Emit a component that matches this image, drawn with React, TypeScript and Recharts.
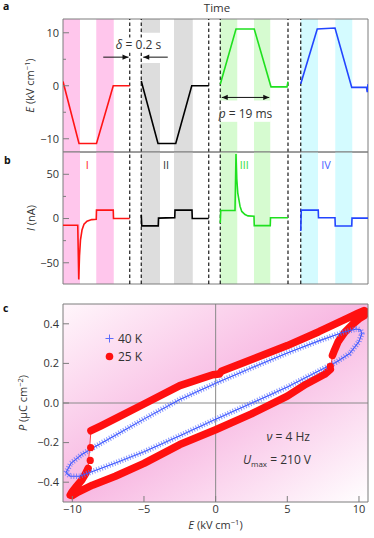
import React from 'react'
import {
  LineChart,
  Line,
  XAxis,
  YAxis,
  Label,
  ReferenceArea,
  ReferenceLine,
  ReferenceDot,
  ScatterChart,
  Scatter,
  Legend,
} from 'recharts'

const FONT = '"Open Sans", "DejaVu Sans", sans-serif'
const INK = '#333333'
const FRAME = '#7d7d7d'
const W = 374

// ---- panels a/b: pulse sequences on a broken time axis (ms) ----
const timeDomain: [number, number] = [0, 122]
const breakLines = [26.7, 31.3, 58.3, 62.9, 90, 95.1]
const pulseNames = ['I', 'II', 'III', 'IV']
const pulseColors = ['#ff1414', '#000000', '#1fe01f', '#2345ff']
const numeralColors = ['#ff2020', '#333333', '#33dd33', '#4a63ff']
const shadeColors = ['#ffc6ec', '#dddddd', '#d6fbd0', '#d4fbff']
const numeralAt = [9.7, 41.2, 72.5, 105.2]
const shadeBands = [
  [[0, 6.8], [13.3, 20.3]],
  [[31.3, 38.8], [44.4, 51.9]],
  [[62.9, 69.7], [76.4, 82.9]],
  [[95.1, 102], [108.9, 115.7]],
]

// E (kV cm^-1) vs t
const fieldTraces = [
  [[0, 0.8], [6.4, -10.9], [13.4, -10.9], [20.1, 0], [26.7, 0]],
  [[31.3, 0.9], [38, -10.9], [45.1, -10.9], [51.5, 0], [58.3, 0]],
  [[62.9, 0.3], [69.2, 10.7], [76.5, 10.7], [83.2, -0.2], [89.6, -0.2], [90, 0.8]],
  [[95.1, 0.4], [101.7, 10.7], [108.8, 10.9], [115.5, -0.3], [121.4, -0.3], [121.7, -1.2], [122, 0.3]],
]
const fieldDomain: [number, number] = [-12.5, 12.6]
const fieldTicks = [-10, -5, 0, 5, 10]

// I (nA) vs t
const currentTraces = [
  [[0, -7.6], [5.9, -7.6], [6.3, -69], [6.6, -42], [7.0, -24], [7.6, -13], [8.4, -6.5], [9.6, -3], [11.5, -1.2], [13.3, -0.8], [13.4, 9.5], [20.1, 9.5], [20.2, 0], [26.7, 0]],
  [[31.3, 4], [31.5, -8.3], [38.1, -8.3], [38.2, 0.5], [44.7, 1], [44.8, 9.5], [51.6, 9.5], [51.7, 0], [58.3, 0]],
  [[62.9, -5], [63.1, 9], [68.8, 9], [69.2, 73], [69.5, 45], [69.9, 29], [70.8, 14], [71.5, 8], [72.8, 4.5], [74, 3], [76.4, 2.5], [76.5, -8], [82.9, -8], [83, 0.8], [90, 0.8]],
  [[95.1, -14], [95.3, 9.5], [102.1, 9.5], [102.2, 0.8], [108.8, 0.8], [108.9, -8.5], [115.5, -8.5], [115.6, 0.5], [122, 0.5]],
]
const currentDomain: [number, number] = [-74, 75.2]
const currentTicks = [-50, -25, 0, 25, 50]

// ---- panel c: P-E loops ----
const eDomain: [number, number] = [-10.65, 10.63]
const pDomain: [number, number] = [-0.5, 0.5]
const eTicks = [-10, -5, 0, 5, 10]
const pTicks = [-0.4, -0.2, 0, 0.2, 0.4]

const red25Upper = [
  [-8.7, -0.14], [-8.0, -0.115], [-6.9, -0.075], [-5.0, -0.005], [-2.5, 0.088], [-0.2, 0.143],
  [0.25, 0.146], [0.4, 0.16], [2.6, 0.222], [5.0, 0.29], [7.2, 0.36], [9.1, 0.425], [9.9, 0.452],
  [10.35, 0.467], [10.55, 0.458], [10.35, 0.44], [10.0, 0.425], [9.55, 0.397], [9.0, 0.357],
  [8.55, 0.31], [8.3, 0.268], [8.15, 0.24],
]
const red25Lower = [
  [8.0, 0.17], [7.6, 0.145], [6.3, 0.095], [5.0, 0.035], [2.5, -0.055], [0, -0.135], [-2.5, -0.21],
  [-5.0, -0.305], [-7.0, -0.37], [-8.6, -0.415], [-9.6, -0.45], [-10.0, -0.468], [-10.15, -0.465],
  [-10.0, -0.447], [-9.7, -0.42], [-9.35, -0.39], [-9.1, -0.36], [-8.9, -0.33],
]
const red25Dots = [[8.0, 0.185], [-8.75, -0.29], [-8.72, -0.225]]
const blue40 = [
  [-10.45, -0.352], [-10.1, -0.305], [-9.4, -0.263], [-8.55, -0.226], [-6.9, -0.159], [-4.95, -0.079],
  [-2.5, 0.018], [0, 0.1], [2.6, 0.18], [5, 0.253], [7.25, 0.315], [8.9, 0.357], [9.8, 0.374],
  [10.1, 0.37], [10.2, 0.35], [10.0, 0.31], [9.35, 0.25], [8.4, 0.206], [7.25, 0.164], [5, 0.081],
  [2.6, 0.002], [0, -0.082], [-2.5, -0.165], [-4.95, -0.245], [-6.9, -0.3], [-8.55, -0.345],
  [-9.5, -0.37], [-10.15, -0.37], [-10.45, -0.352],
]
const loopNames = ['40 K', '25 K']

const RED = '#ff1010'
const BLUE = '#3550ff'

const toTV = (arr: number[][]) => arr.map(([t, v]) => ({ t, v }))
const toEP = (arr: number[][]) => arr.map(([e, p]) => ({ e, p }))
const minus = (s: string) => s.replace('-', '\u2212')

const txt = { fontFamily: FONT, fill: INK }

const inwardTick = (isMajor: (v: number) => boolean, fmt: (v: number) => string) => (props: any) => {
  const { x, y, payload } = props
  const major = isMajor(payload.value)
  return (
    <g>
      <line x1={x} x2={x + (major ? 6 : 3)} y1={y} y2={y} stroke={FRAME} />
      {major && (
        <text x={x - 4} y={y} dy="0.35em" textAnchor="end" fontSize={11} {...txt}>
          {fmt(payload.value)}
        </text>
      )}
    </g>
  )
}

const bottomTick = (props: any) => {
  const { x, y, payload } = props
  return (
    <g>
      <line x1={x} x2={x} y1={y} y2={y - 6} stroke={FRAME} />
      <text x={x} y={y + 3} dy="0.71em" textAnchor="middle" fontSize={11} {...txt}>
        {minus(String(payload.value))}
      </text>
    </g>
  )
}

const fieldUnit = (
  <>
    <tspan fontStyle="italic">E</tspan> (kV cm<tspan dy={-4} fontSize={7.5}>{'\u22121'}</tspan>
    <tspan dy={4}>)</tspan>
  </>
)

const yTitle = (cx: number, parts: React.ReactNode) => (props: any) => {
  const vb = props.viewBox
  const cy = vb.y + vb.height / 2
  return (
    <text x={cx} y={cy} dy="0.35em" transform={`rotate(-90 ${cx} ${cy})`} textAnchor="middle" fontSize={11} {...txt}>
      {parts}
    </text>
  )
}

const xTitle = (props: any) => {
  const vb = props.viewBox
  return (
    <text x={vb.x + vb.width / 2} y={vb.y + 27} textAnchor="middle" fontSize={11} {...txt}>
      {fieldUnit}
    </text>
  )
}

const arrowShape = (both: boolean) => (p: any) => {
  const { x1, y1, x2, y2 } = p
  const d = Math.sign(x2 - x1)
  const head = (x: number, s: number) => (
    <polygon points={`${x},${y2} ${x - s * 6},${y2 - 2.6} ${x - s * 6},${y2 + 2.6}`} fill="#111" />
  )
  return (
    <g>
      <line x1={x1} y1={y1} x2={x2} y2={y2} stroke="#111" strokeWidth={1} />
      {head(x2, d)}
      {both && head(x1, -d)}
    </g>
  )
}

const boxedText = (content: React.ReactNode, w: number, h: number, size: number) => (p: any) => (
  <g>
    <rect x={p.cx - w / 2} y={p.cy - h / 2} width={w} height={h} fill="#fff" />
    <text x={p.cx} y={p.cy} dy="0.35em" textAnchor="middle" fontSize={size} {...txt}>
      {content}
    </text>
  </g>
)

const plainText = (content: React.ReactNode, size: number, color: string, anchor = 'middle') => (p: any) => (
  <text x={p.cx} y={p.cy} dy="0.35em" textAnchor={anchor} fontSize={size} fontFamily={FONT} fill={color}>
    {content}
  </text>
)

const noShape = () => <g />

const shades = () =>
  shadeBands.flatMap((bands, i) =>
    bands.map(([a, b], j) => (
      <ReferenceArea key={`s${i}${j}`} x1={a} x2={b} fill={shadeColors[i]} fillOpacity={1} stroke="none" ifOverflow="visible" />
    )),
  )

const breaks = () =>
  breakLines.map((x) => (
    <ReferenceLine key={`g${x}`} x={x} stroke="#111" strokeDasharray="3.5 2.5" strokeWidth={1.15} />
  ))

const FieldPanel = () => (
  <LineChart width={W} height={153} margin={{ top: 19, right: 6, bottom: 1, left: 0 }}>
    <XAxis type="number" dataKey="t" domain={timeDomain} hide allowDataOverflow />
    <YAxis
      type="number"
      domain={fieldDomain}
      ticks={fieldTicks}
      interval={0}
      width={63}
      allowDataOverflow
      axisLine={false}
      tickLine={false}
      tickSize={0}
      tickMargin={0}
      tick={inwardTick((v) => v % 10 === 0, (v) => minus(String(v)))}
    >
      <Label content={yTitle(30, fieldUnit)} />
    </YAxis>
    {shades()}
    <ReferenceArea x1={20.6} x2={42} y1={4.3} y2={10} fill="#fff" fillOpacity={1} stroke="none" />
    <ReferenceArea x1={62.9} x2={83} y1={-6.8} y2={-2.8} fill="#fff" fillOpacity={1} stroke="none" />
    {breaks()}
    {fieldTraces.map((tr, i) => (
      <Line
        key={`e${i}`}
        data={toTV(tr)}
        dataKey="v"
        type="linear"
        stroke={pulseColors[i]}
        strokeWidth={1.6}
        dot={false}
        activeDot={false}
        isAnimationActive={false}
      />
    ))}
    <ReferenceLine segment={[{ x: 16.1, y: 5.4 }, { x: 26.2, y: 5.4 }]} shape={arrowShape(false)} />
    <ReferenceLine segment={[{ x: 41.9, y: 5.4 }, { x: 32.1, y: 5.4 }]} shape={arrowShape(false)} />
    <ReferenceLine segment={[{ x: 63.5, y: -2.2 }, { x: 82.5, y: -2.2 }]} shape={arrowShape(true)} />
    <ReferenceDot
      x={30.2}
      y={7.7}
      shape={boxedText(<><tspan fontStyle="italic">δ</tspan> = 0.2 s</>, 48, 15, 12)}
    />
    <ReferenceDot
      x={73}
      y={-5.3}
      shape={boxedText(<><tspan fontStyle="italic">p</tspan> = 19 ms</>, 50, 15, 12)}
    />
    <ReferenceArea x1={timeDomain[0]} x2={timeDomain[1]} y1={fieldDomain[0]} y2={fieldDomain[1]} fill="none" stroke={FRAME} ifOverflow="visible" />
  </LineChart>
)

const CurrentPanel = () => (
  <LineChart width={W} height={143} margin={{ top: 5, right: 6, bottom: 6, left: 0 }}>
    <XAxis type="number" dataKey="t" domain={timeDomain} hide allowDataOverflow />
    <YAxis
      type="number"
      domain={currentDomain}
      ticks={currentTicks}
      interval={0}
      width={63}
      allowDataOverflow
      axisLine={false}
      tickLine={false}
      tickSize={0}
      tickMargin={0}
      tick={inwardTick((v) => v % 50 === 0, (v) => minus(String(v)))}
    >
      <Label content={yTitle(31, <><tspan fontStyle="italic">I</tspan> (nA)</>)} />
    </YAxis>
    {shades()}
    {breaks()}
    {currentTraces.map((tr, i) => (
      <Line
        key={`i${i}`}
        data={toTV(tr)}
        dataKey="v"
        type="linear"
        stroke={pulseColors[i]}
        strokeWidth={1.6}
        dot={false}
        activeDot={false}
        isAnimationActive={false}
      />
    ))}
    {pulseNames.map((n, i) => (
      <ReferenceDot key={n} x={numeralAt[i]} y={60.5} shape={plainText(n, 11, numeralColors[i])} />
    ))}
    <ReferenceArea x1={timeDomain[0]} x2={timeDomain[1]} y1={currentDomain[0]} y2={currentDomain[1]} fill="none" stroke={FRAME} ifOverflow="visible" />
  </LineChart>
)

const LoopLegend = () => (
  <div style={{ fontFamily: FONT, fontSize: 12, color: INK }}>
    {loopNames.map((name, i) => (
      <div key={name} style={{ display: 'flex', alignItems: 'center', height: 18 }}>
        <svg width={11} height={11}>
          {i === 0 ? (
            <g stroke={BLUE} strokeWidth={1} opacity={0.8}>
              <line x1={1.5} x2={9.5} y1={5.5} y2={5.5} />
              <line x1={5.5} x2={5.5} y1={1.5} y2={9.5} />
            </g>
          ) : (
            <circle cx={5.5} cy={5.5} r={3.8} fill={RED} />
          )}
        </svg>
        <span style={{ marginLeft: 3 }}>{name}</span>
      </div>
    ))}
  </div>
)

const LoopPanel = () => {
  const upper = toEP(red25Upper)
  const lower = toEP(red25Lower)
  const jumps = [
    [upper[upper.length - 1], lower[0]],
    [lower[lower.length - 1], upper[0]],
  ]
  return (
    <ScatterChart width={W} height={242} margin={{ top: 8, right: 6, bottom: 0, left: 0 }}>
      <XAxis
        type="number"
        dataKey="e"
        domain={eDomain}
        ticks={eTicks}
        interval={0}
        height={36}
        allowDataOverflow
        axisLine={false}
        tickLine={false}
        tickSize={0}
        tickMargin={0}
        tick={bottomTick}
      >
        <Label content={xTitle} />
      </XAxis>
      <YAxis
        type="number"
        dataKey="p"
        domain={pDomain}
        ticks={pTicks}
        interval={0}
        width={63}
        allowDataOverflow
        axisLine={false}
        tickLine={false}
        tickSize={0}
        tickMargin={0}
        tick={inwardTick(() => true, (v) => minus(v.toFixed(1)))}
      >
        <Label
          content={yTitle(23, <><tspan fontStyle="italic">P</tspan> (μC cm<tspan dy={-4} fontSize={7.5}>{'\u22122'}</tspan><tspan dy={4}>)</tspan></>)}
        />
      </YAxis>
      <Scatter
        data={[...upper, ...lower]}
        line={{ fill: '#ffffff', stroke: 'none' }}
        shape={noShape}
        legendType="none"
        isAnimationActive={false}
        zIndex={600}
      />
      <ReferenceLine x={0} stroke="#8a8a8a" strokeWidth={1} zIndex={650} />
      <ReferenceLine y={0} stroke="#8a8a8a" strokeWidth={1} zIndex={650} />
      {[upper, lower].map((seg, i) => (
        <Scatter
          key={`r${i}`}
          data={seg}
          line={{ stroke: RED, strokeWidth: 7.5, strokeLinecap: 'round', strokeLinejoin: 'round' }}
          shape={noShape}
          legendType="none"
          isAnimationActive={false}
          zIndex={700}
        />
      ))}
      {jumps.map((seg, i) => (
        <Scatter
          key={`j${i}`}
          data={seg}
          line={{ stroke: RED, strokeWidth: 0.8 }}
          shape={noShape}
          legendType="none"
          isAnimationActive={false}
          zIndex={700}
        />
      ))}
      <Scatter
        data={toEP(blue40)}
        line={{ stroke: BLUE, strokeWidth: 1.1, strokeLinejoin: 'round' }}
        shape={noShape}
        legendType="none"
        isAnimationActive={false}
        zIndex={710}
      />
      <Scatter
        data={toEP(blue40)}
        line={{ stroke: '#5a70ff', strokeWidth: 5.5, strokeDasharray: '1 1.7', strokeOpacity: 0.75 }}
        shape={noShape}
        legendType="none"
        isAnimationActive={false}
        zIndex={710}
      />
      <Scatter
        data={toEP(red25Dots)}
        shape={(p: any) => <circle cx={p.cx} cy={p.cy} r={3.6} fill={RED} />}
        legendType="none"
        isAnimationActive={false}
        zIndex={720}
      />
      <Legend
        layout="vertical"
        align="center"
        verticalAlign="middle"
        wrapperStyle={{ left: 104, top: 33, width: 'auto' }}
        content={() => <LoopLegend />}
      />
      <ReferenceDot
        x={3.55}
        y={-0.171}
        shape={plainText(<><tspan fontStyle="italic">ν</tspan> = 4 Hz</>, 12, INK, 'start')}
        zIndex={800}
      />
      <ReferenceDot
        x={1.9}
        y={-0.288}
        shape={plainText(
          <>
            <tspan fontStyle="italic">U</tspan>
            <tspan fontSize={8} dy={3}>max</tspan>
            <tspan dy={-3}> = 210 V</tspan>
          </>,
          12,
          INK,
          'start',
        )}
        zIndex={800}
      />
      <ReferenceArea x1={eDomain[0]} x2={eDomain[1]} y1={pDomain[0]} y2={pDomain[1]} fill="none" stroke={FRAME} ifOverflow="visible" zIndex={900} />
    </ScatterChart>
  )
}

const tag = (letter: string, left: number, top: number) => (
  <div style={{ position: 'absolute', left, top, fontFamily: FONT, fontWeight: 700, fontSize: 10.5, color: '#111', lineHeight: '12px' }}>
    {letter}
  </div>
)

export default function App() {
  return (
    <div style={{ position: 'absolute', left: 0, top: 0, width: W, height: 538, background: '#fff', fontFamily: FONT }}>
      {tag('a', 3, 0)}
      {tag('b', 4, 154)}
      {tag('c', 3, 302)}
      <div style={{ position: 'absolute', left: 0, top: 1, width: 434, textAlign: 'center', fontFamily: FONT, fontSize: 11.5, color: INK, lineHeight: '14px' }}>
        Time
      </div>
      <div style={{ position: 'absolute', left: 0, top: 0 }}>
        <FieldPanel />
      </div>
      <div style={{ position: 'absolute', left: 0, top: 147 }}>
        <CurrentPanel />
      </div>
      <div
        style={{
          position: 'absolute',
          left: 63,
          top: 304,
          width: 305,
          height: 198,
          background: 'linear-gradient(to bottom right, #fff6fb 0%, #f8b8e2 50%, #ffffff 100%)',
        }}
      />
      <div style={{ position: 'absolute', left: 0, top: 296 }}>
        <LoopPanel />
      </div>
    </div>
  )
}
